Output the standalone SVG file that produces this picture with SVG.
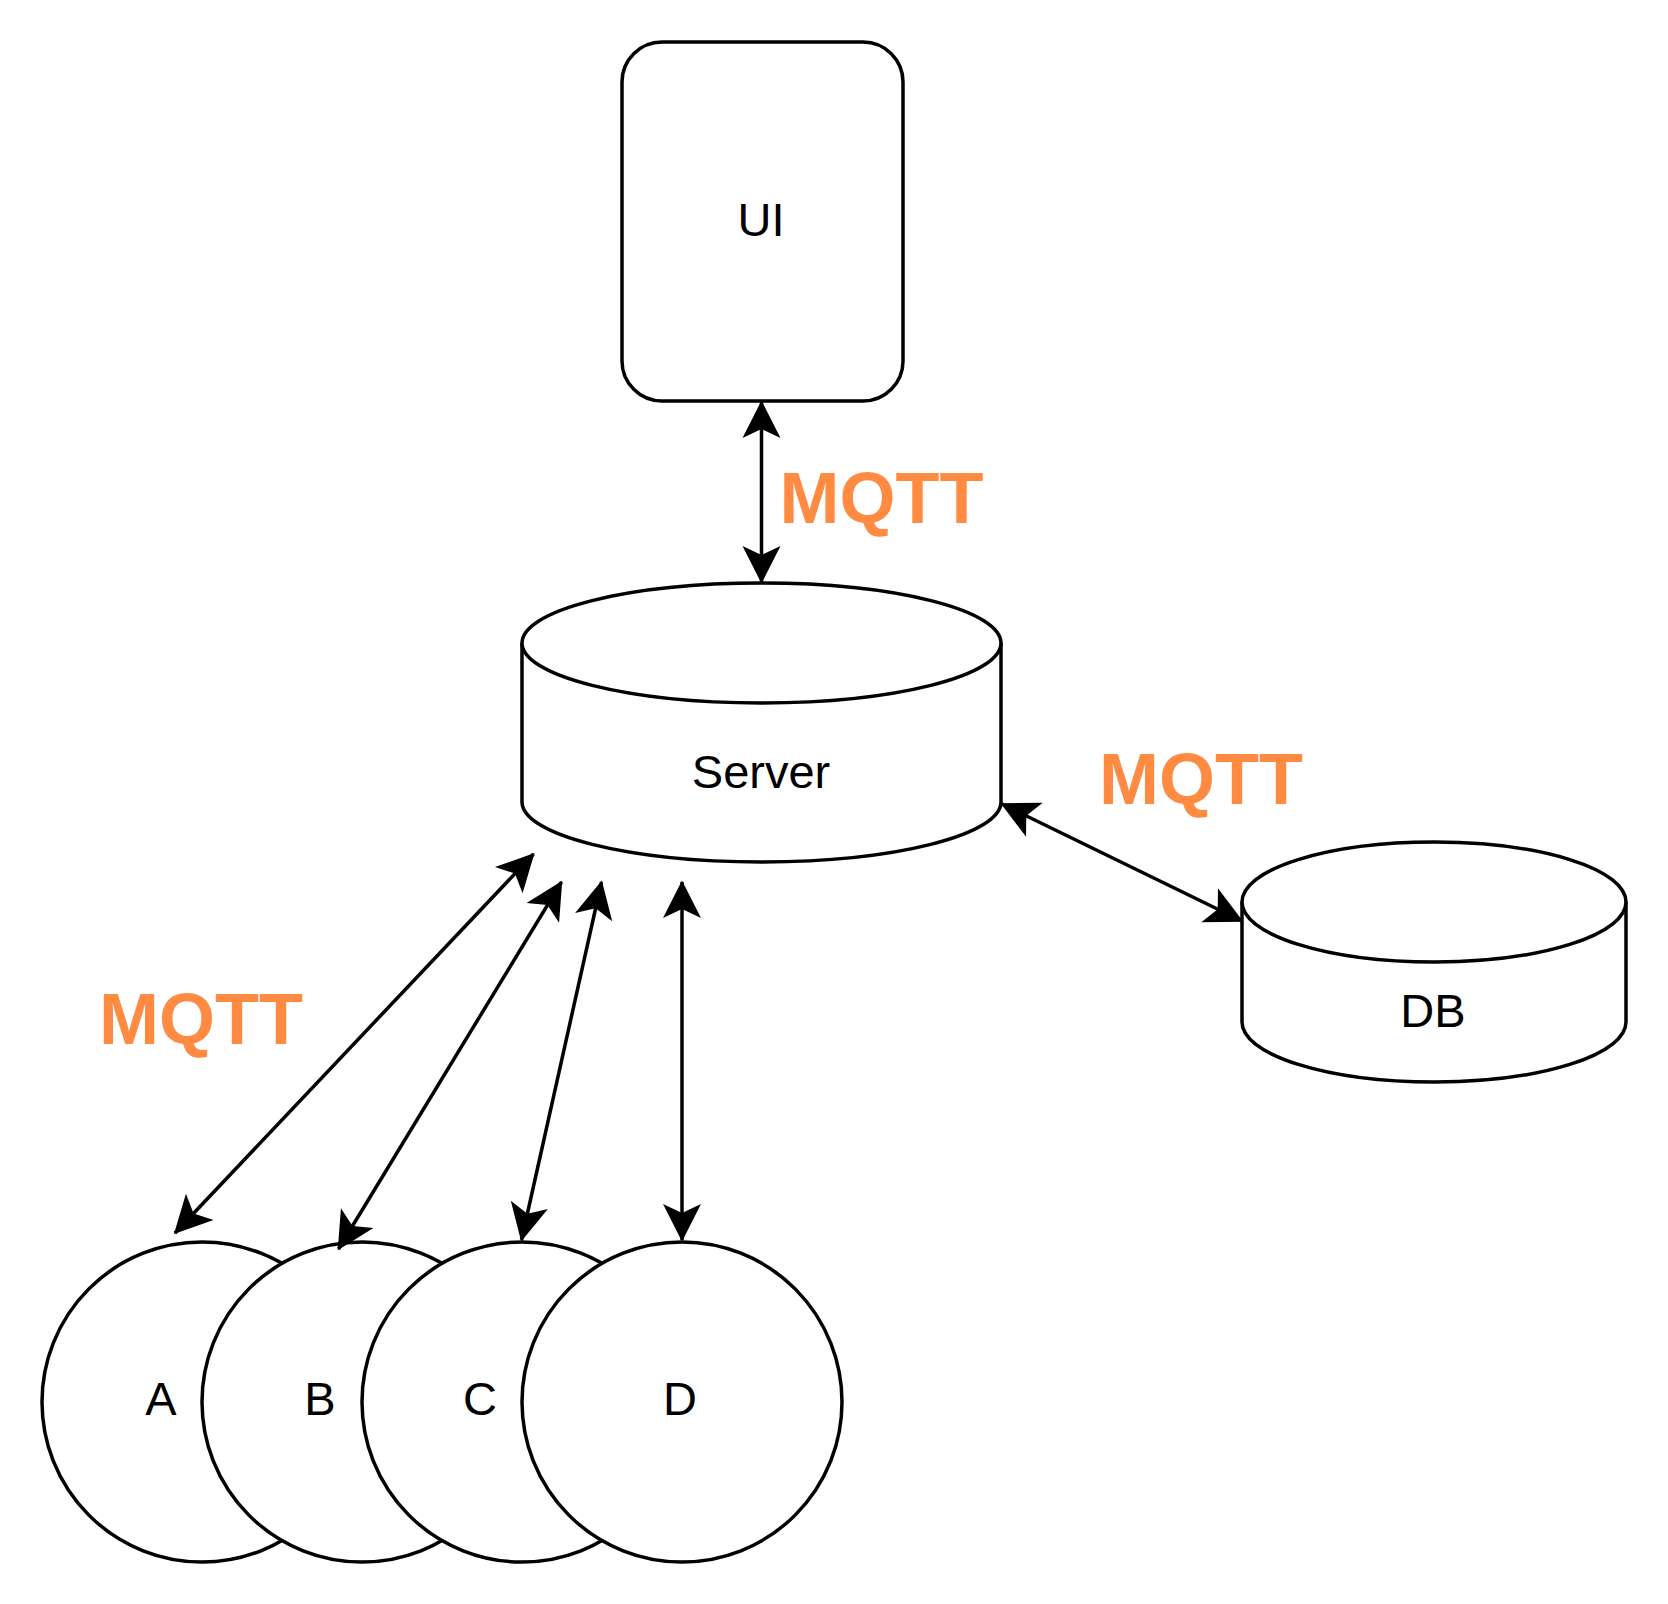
<svg xmlns="http://www.w3.org/2000/svg" width="1668" height="1604" viewBox="0 0 1668 1604">
<style>
.shape{fill:#fff;stroke:#000;stroke-width:3.5}
.lbl{font-family:"Liberation Sans",Arial,sans-serif;font-size:47px;fill:#000;text-anchor:middle}
.mqtt{font-family:"Liberation Sans",Arial,sans-serif;font-size:72px;font-weight:bold;fill:#FF8A42;text-anchor:middle}
.conn{fill:none;stroke:#000;stroke-width:3.5;marker-start:url(#arr);marker-end:url(#arr)}
</style>
<defs>
<marker id="arr" markerUnits="userSpaceOnUse" viewBox="-40 -21 42 42" markerWidth="42" markerHeight="42" refX="0" refY="0" orient="auto-start-reverse">
<path d="M1.5,0 L-36,-19 L-27,0 L-36,19 Z" fill="#000"/>
</marker>
</defs>
<rect width="1668" height="1604" fill="#fff"/>
<g id="ui">
<rect class="shape" x="622" y="42" width="281" height="359" rx="40" ry="40"/>
<text class="lbl" x="761" y="236">UI</text>
</g>
<g id="server">
<path class="shape" d="M522,643 L522,802 A239.5,60 0 0 0 1001,802 L1001,643"/>
<ellipse class="shape" cx="761.5" cy="643" rx="239.5" ry="60"/>
<text class="lbl" x="761" y="788">Server</text>
</g>
<g id="db">
<path class="shape" d="M1242,902 L1242,1022 A192,60 0 0 0 1626,1022 L1626,902"/>
<ellipse class="shape" cx="1434" cy="902" rx="192" ry="60"/>
<text class="lbl" x="1433" y="1027">DB</text>
</g>
<g id="node-a">
<circle class="shape" cx="202" cy="1402" r="160"/>
<text class="lbl" x="161" y="1415">A</text>
</g>
<g id="node-b">
<circle class="shape" cx="362" cy="1402" r="160"/>
<text class="lbl" x="320" y="1415">B</text>
</g>
<g id="node-c">
<circle class="shape" cx="522" cy="1402" r="160"/>
<text class="lbl" x="480" y="1415">C</text>
</g>
<g id="node-d">
<circle class="shape" cx="682" cy="1402" r="160"/>
<text class="lbl" x="680" y="1415">D</text>
</g>
<g id="connectors">
<line class="conn" x1="761.5" y1="402" x2="761.5" y2="582"/>
<line class="conn" x1="1002" y1="804" x2="1242" y2="921"/>
<line class="conn" x1="533.5" y1="854" x2="175" y2="1233"/>
<line class="conn" x1="561.5" y1="882" x2="338.5" y2="1249"/>
<line class="conn" x1="601.5" y1="882" x2="521.5" y2="1240"/>
<line class="conn" x1="682" y1="882" x2="682" y2="1240"/>
</g>
<g id="labels">
<text class="mqtt" x="881.5" y="523">MQTT</text>
<text class="mqtt" x="1201" y="804">MQTT</text>
<text class="mqtt" x="201" y="1044">MQTT</text>
</g>
</svg>
